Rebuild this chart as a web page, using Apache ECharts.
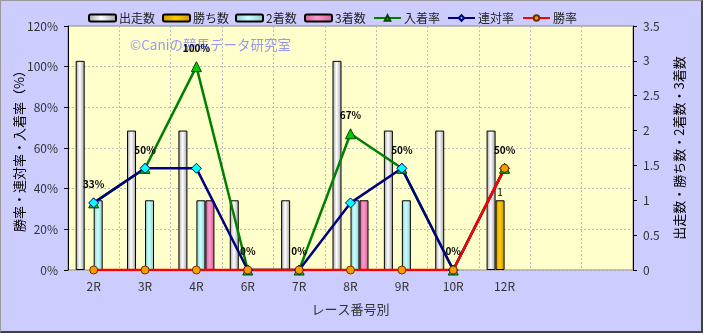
<!DOCTYPE html>
<html><head><meta charset="utf-8">
<script src="https://cdn.jsdelivr.net/npm/echarts@6/dist/echarts.min.js"></script>
<style>html,body{margin:0;padding:0;background:#CCCCFF}#c{width:703px;height:333px;box-sizing:border-box;border-top:1px solid #999;border-left:1px solid #999;border-right:2px solid #404040;border-bottom:2px solid #404040;}</style>
</head><body><div id="c"></div>
<script>
const categories = ['2R','3R','4R','6R','7R','8R','9R','10R','12R','',''];
const starts = [3,2,2,1,1,3,2,2,2];
const wins = [0,0,0,0,0,0,0,0,1];
const seconds = [1,1,1,0,0,1,1,0,0];
const thirds = [0,0,1,0,0,1,0,0,0];
const placeRate = [33,50,100,0,0,67,50,0,50];
const quinellaRate = [33,50,50,0,0,33,50,0,50];
const winRate = [0,0,0,0,0,0,0,0,50];
const leftTicks = [0,20,40,60,80,100,120];
const rightTicks = [0,0.5,1,1.5,2,2.5,3,3.5];
const legendNames = ['出走数','勝ち数','2着数','3着数','入着率','連対率','勝率'];

const font = '"Noto Sans CJK JP", "Noto Sans", sans-serif';
function grad(edge, mid){
  return new echarts.graphic.LinearGradient(0,0,1,0,[
    {offset:0,color:edge},{offset:0.45,color:mid},{offset:1,color:edge}]);
}
const legendLefts = [82,156,229,298,367,441,516];
const legends = legendNames.map((n,i)=>({
  top:6, left:legendLefts[i], itemGap:0, itemWidth:27, itemHeight:7,
  textStyle:{fontSize:12,color:'#222',fontFamily:font,padding:[0,0,0,-2]},
  data:[n]
}));
const chart = echarts.init(document.getElementById('c'));
const barBase = {type:'bar', yAxisIndex:1, barWidth:9, barGap:'0%', barCategoryGap:'30%'};
chart.setOption({
  animation:false,
  backgroundColor:'#CCCCFF',
  textStyle:{fontFamily:font},
  legend:legends,
  grid:{left:67,right:68,top:25,bottom:61,containLabel:false,outerBoundsMode:'none',show:true,backgroundColor:'#FFFFCC',borderColor:'#888',borderWidth:1},
  graphic:[{type:'text',left:129,top:37,z:1,style:{text:'©Caniの競馬データ研究室',fill:'#9999EE',font:'13.5px '+font}}],
  xAxis:{
    type:'category', data:categories, boundaryGap:true,
    name:'レース番号別', nameLocation:'middle', nameGap:33,
    nameTextStyle:{fontSize:13,color:'#333',fontFamily:font},
    axisLine:{show:false}, axisTick:{show:false},
    axisLabel:{fontSize:12,color:'#333',margin:10,interval:0},
    splitLine:{show:true,lineStyle:{color:'#BBB',type:[2,2],width:1}}
  },
  yAxis:[{
    type:'value', min:0, max:120, interval:20,
    name:'勝率・連対率・入着率（%）', nameLocation:'middle', nameGap:42, nameRotate:90, nameMoveOverlap:false,
    nameTextStyle:{fontSize:13,color:'#000',fontFamily:font},
    axisLine:{show:true,lineStyle:{color:'#000'}}, axisTick:{show:true,length:4,lineStyle:{color:'#000'}},
    axisLabel:{fontSize:12,color:'#333',formatter:'{value}%',margin:10},
    splitLine:{show:true,lineStyle:{color:'#BBB',type:[2,2],width:1}}
  },{
    type:'value', min:0, max:3.5, interval:0.5,
    name:'出走数・勝ち数・2着数・3着数', nameLocation:'middle', nameGap:40, nameRotate:90,
    nameTextStyle:{fontSize:13,color:'#000',fontFamily:font},
    axisLine:{show:true,lineStyle:{color:'#000'}}, axisTick:{show:true,length:4,lineStyle:{color:'#000'}},
    axisLabel:{fontSize:12,color:'#333',margin:10},
    splitLine:{show:false}
  }],
  series:[
    Object.assign({},barBase,{name:'出走数',data:starts,itemStyle:{borderColor:'#000',borderWidth:1,color:grad('#A0A0A0','#FFFFFF')}}),
    Object.assign({},barBase,{name:'勝ち数',data:wins.map(v=>v===0?null:v),itemStyle:{borderColor:'#000',borderWidth:1,color:grad('#CC9900','#FFCC00')},
      label:{show:true,position:'top',fontSize:10,color:'#000',distance:3}}),
    Object.assign({},barBase,{name:'2着数',data:seconds.map(v=>v===0?null:v),itemStyle:{borderColor:'#000',borderWidth:1,color:grad('#88CCCC','#CCFFFF')}}),
    Object.assign({},barBase,{name:'3着数',data:thirds.map(v=>v===0?null:v),itemStyle:{borderColor:'#000',borderWidth:1,color:grad('#CC6699','#FF99CC')}}),
    {name:'入着率',type:'line',yAxisIndex:0,data:placeRate,symbol:'triangle',symbolSize:10,
      lineStyle:{color:'#008000',width:2.5},itemStyle:{color:'#00CC00',borderColor:'#004400',borderWidth:1},
      label:{show:true,position:'top',distance:8,fontSize:10,fontWeight:'bold',color:'#000',formatter:'{c}%'}},
    {name:'連対率',type:'line',yAxisIndex:0,data:quinellaRate,symbol:'diamond',symbolSize:10,
      lineStyle:{color:'#000080',width:2.5},itemStyle:{color:'#00FFFF',borderColor:'#000080',borderWidth:1}},
    {name:'勝率',type:'line',yAxisIndex:0,data:winRate,symbol:'circle',symbolSize:8,
      lineStyle:{color:'#FF0000',width:2.5},itemStyle:{color:'#FF9900',borderColor:'#663300',borderWidth:1}}
  ]
});
</script></body></html>
